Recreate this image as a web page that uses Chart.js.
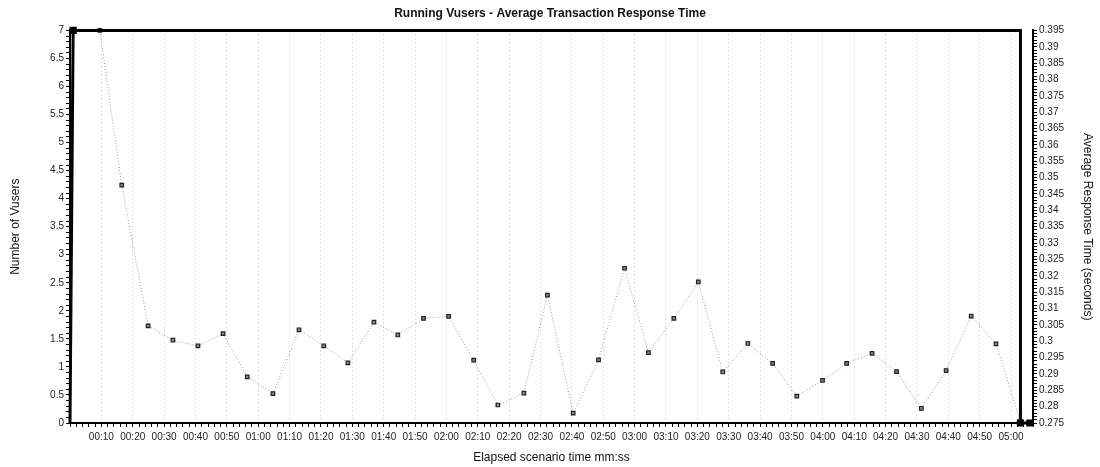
<!DOCTYPE html>
<html>
<head>
<meta charset="utf-8">
<title>Running Vusers - Average Transaction Response Time</title>
<script src="https://cdn.jsdelivr.net/npm/chart.js@4.4.1/dist/chart.umd.min.js"></script>
<style>
    body { margin: 0; background: #fff; }
    #wrap { width: 1100px; height: 467px; position: relative; }
</style>
</head>
<body>
<div id="wrap"><canvas id="chart"></canvas></div>
<script>
// running vusers (seconds, count)
var vuserTimes = [0, 1, 303, 303, 306];
var vuserValues = [0, 7, 7, 0, 0];
var vuserMarks = [0, 3, 0, 3, 3];

// average transaction response time (seconds, seconds)
var rtTimes = [9.5, 16.5, 24.9, 32.8, 40.8, 48.8, 56.5, 64.7, 73, 80.9, 88.6, 96.9, 104.5,
    112.7, 120.7, 128.7, 136.4, 144.7, 152.2, 160.4, 168.5, 176.8, 184.4, 192.5, 200.3,
    208.1, 216.1, 224, 231.7, 239.9, 247.6, 255.7, 263.5, 271.4, 279.3, 287.3, 295.2, 303];
var rtValues = [0.395, 0.3477, 0.3047, 0.3003, 0.2986, 0.3023, 0.2891, 0.2840, 0.3035, 0.2986,
    0.2934, 0.3058, 0.3019, 0.3070, 0.3076, 0.2942, 0.2805, 0.2841, 0.3141, 0.2780, 0.2943,
    0.3223, 0.2965, 0.3070, 0.3181, 0.2906, 0.2993, 0.2932, 0.2832, 0.2880, 0.2932, 0.2963,
    0.2907, 0.2795, 0.2910, 0.3077, 0.2992, 0.2755];

var xMax = 307;
var vuserMin = 0, vuserMax = 7;
var rtMin = 0.275, rtMax = 0.395;

function mmss(v) {
    let m = Math.floor(v / 60);
    let s = Math.round(v % 60);
    return (m < 10 ? '0' : '') + m + ':' + (s < 10 ? '0' : '') + s;
}

function isMajorX(v) {
    return v > 0 && Math.round(v) % 10 === 0 && Math.abs(v - Math.round(v)) < 1e-6;
}

var font = 'Liberation Sans, Arial, sans-serif';

var ctx = document.getElementById('chart');
var chart = new Chart(ctx, {
    type: 'line',
    data: {
        datasets: [{
            label: 'Running Vusers',
            data: vuserTimes.map(function (t, i) { return { x: t, y: vuserValues[i] }; }),
            yAxisID: 'y',
            borderColor: '#000',
            borderWidth: 3,
            pointStyle: 'rect',
            pointRadius: vuserMarks,
            pointBackgroundColor: '#000',
            pointBorderColor: '#000',
            tension: 0,
            clip: false
        }, {
            label: 'Average Transaction Response Time',
            data: rtTimes.map(function (t, i) { return { x: t, y: rtValues[i] }; }),
            yAxisID: 'y2',
            borderColor: '#9a9a9a',
            borderWidth: 1,
            borderDash: [1, 2],
            pointStyle: 'rect',
            pointRadius: 2.5,
            pointBorderWidth: 1.2,
            pointBackgroundColor: '#888',
            pointBorderColor: '#222',
            tension: 0,
            clip: false
        }]
    },
    options: {
        responsive: true,
        maintainAspectRatio: false,
        animation: false,
        layout: { padding: 0 },
        plugins: {
            legend: { display: false },
            tooltip: { enabled: false },
            title: {
                display: true,
                text: 'Running Vusers - Average Transaction Response Time',
                color: '#111',
                font: { family: font, size: 12, weight: 'bold' },
                padding: { top: 6, bottom: 10 }
            }
        },
        scales: {
            x: {
                type: 'linear',
                min: 0,
                max: xMax,
                afterFit: function (s) { s.height = 44; },
                border: { color: '#000', width: 2, dash: [1, 3] },
                grid: {
                    color: function (c) { return isMajorX(c.tick.value) ? '#c4c4c4' : 'rgba(0,0,0,0)'; },
                    tickColor: '#000',
                    tickLength: 4,
                    lineWidth: 1
                },
                ticks: {
                    stepSize: 2,
                    autoSkip: false,
                    maxRotation: 0,
                    padding: 4,
                    color: '#222',
                    font: { family: font, size: 10 },
                    callback: function (v) { return isMajorX(v) ? mmss(v) : ''; }
                },
                title: {
                    display: true,
                    text: 'Elapsed scenario time mm:ss',
                    color: '#111',
                    font: { family: font, size: 12 },
                    padding: { top: 0, bottom: 2 }
                }
            },
            y: {
                position: 'left',
                min: vuserMin,
                max: vuserMax,
                afterFit: function (s) { s.width = 70; },
                border: { color: '#000', width: 2 },
                grid: { drawOnChartArea: false, tickColor: '#000', tickLength: 4 },
                ticks: {
                    stepSize: 0.1,
                    autoSkip: false,
                    padding: 2,
                    color: '#222',
                    font: { family: font, size: 10 },
                    callback: function (v) {
                        return Math.round(v * 10) % 5 === 0 ? String(+v.toFixed(1)) : '';
                    }
                },
                title: {
                    display: true,
                    text: 'Number of Vusers',
                    color: '#111',
                    font: { family: font, size: 12 },
                    padding: { top: 8, bottom: 0 }
                }
            },
            y2: {
                position: 'right',
                min: rtMin,
                max: rtMax,
                afterFit: function (s) { s.width = 67; },
                border: { color: '#000', width: 2 },
                grid: { drawOnChartArea: false, tickColor: '#000', tickLength: 4 },
                ticks: {
                    stepSize: 0.001,
                    autoSkip: false,
                    padding: 2,
                    color: '#222',
                    font: { family: font, size: 10 },
                    callback: function (v) {
                        return Math.round(v * 1000) % 5 === 0 ? String(+v.toFixed(3)) : '';
                    }
                },
                title: {
                    display: true,
                    text: 'Average Response Time (seconds)',
                    color: '#111',
                    font: { family: font, size: 12 },
                    padding: { top: 5, bottom: 0 }
                }
            }
        }
    }
});
</script>
</body>
</html>
